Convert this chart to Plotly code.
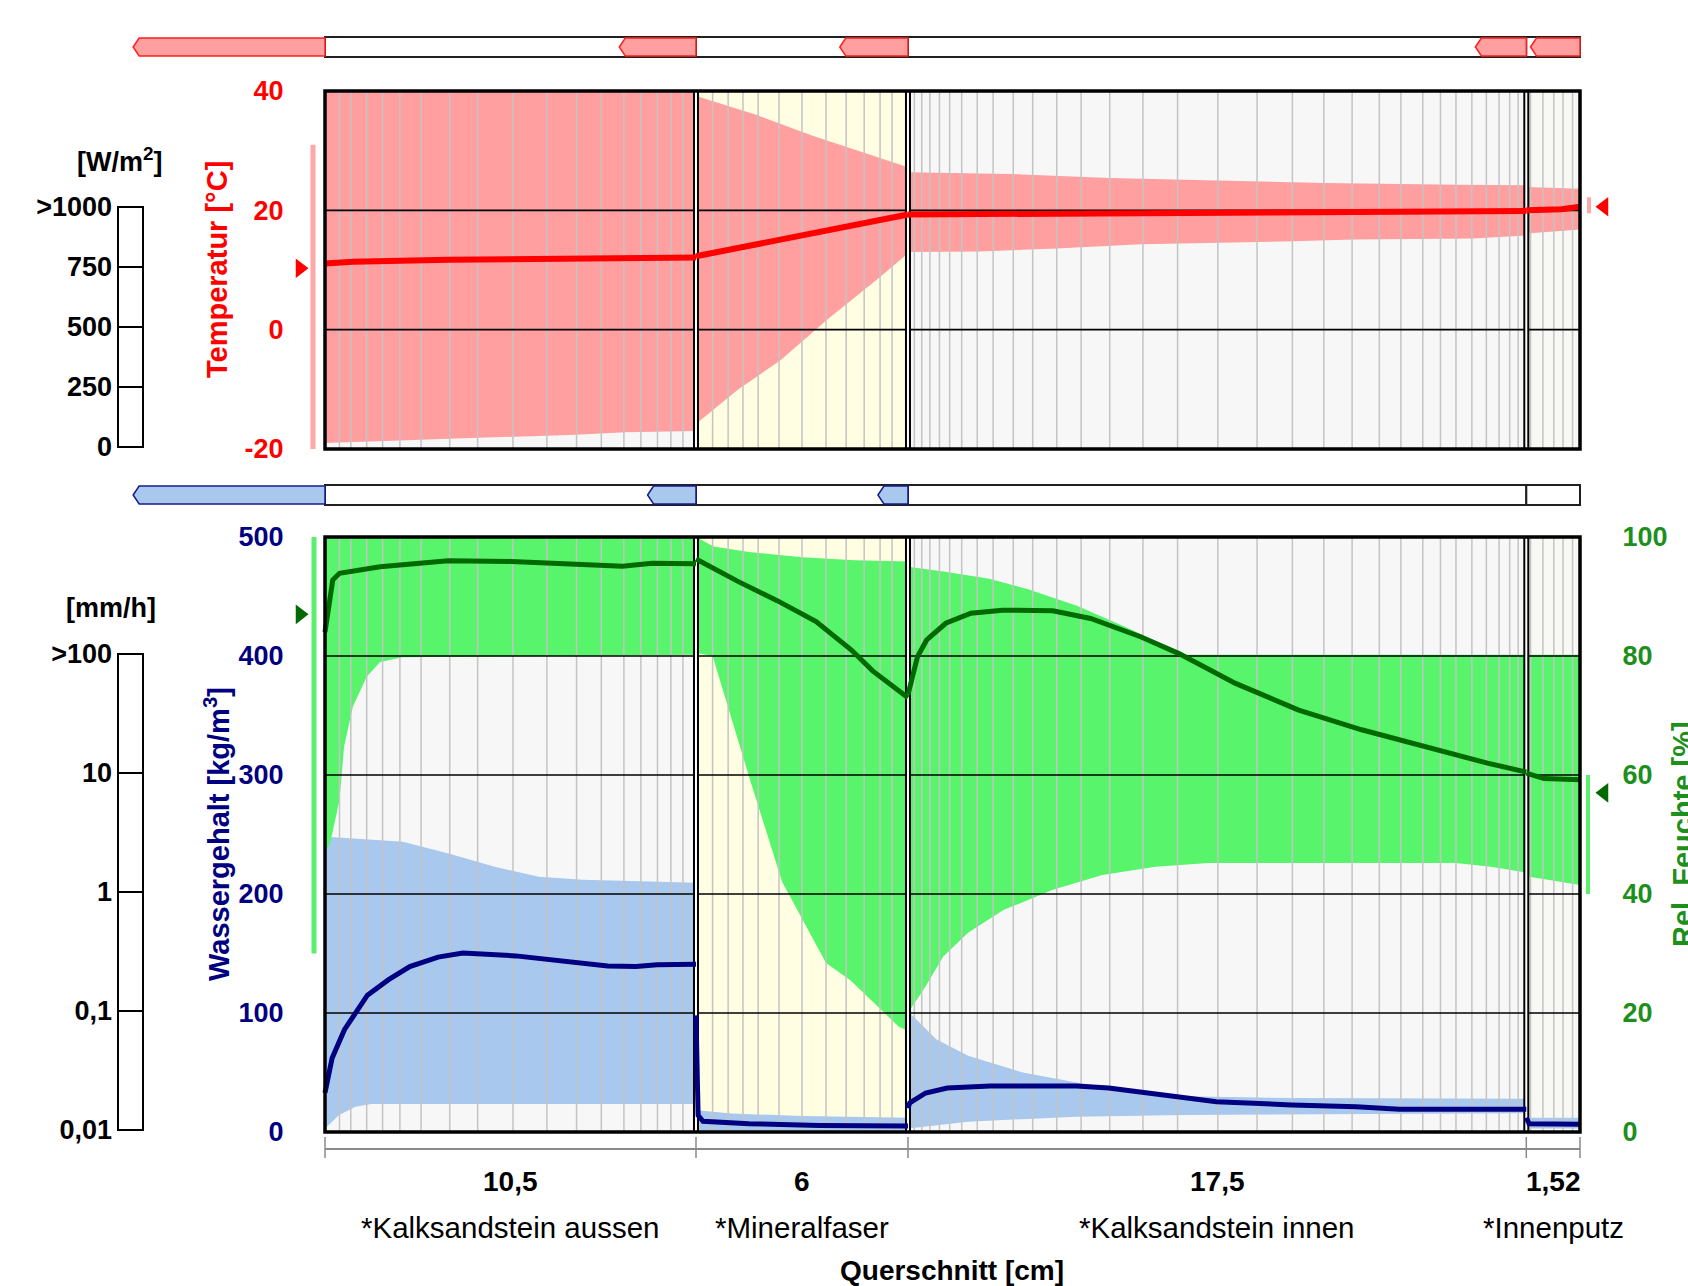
import plotly.graph_objects as go

W, H = 1688, 1286

# ---------------- data ----------------
layer_names = ["*Kalksandstein aussen", "*Mineralfaser", "*Kalksandstein innen", "*Innenputz"]
layer_thickness = [10.5, 6.0, 17.5, 1.52]
thickness_labels = ["10,5", "6", "17,5", "1,52"]

# numerical grid element boundaries [cm]
mesh_cm = [0.41, 0.73, 1.18, 1.63, 2.12, 2.72, 3.53, 4.32, 5.32, 6.28, 7.12, 7.82, 8.46, 8.94, 9.41, 9.79, 10.13,
           10.97, 11.41, 11.83, 12.26, 12.85, 13.50, 14.18, 14.75, 15.26, 15.71, 16.05,
           16.68, 16.89, 17.12, 17.39, 17.68, 18.02, 18.46, 18.91, 19.48, 20.03, 20.71, 21.40, 22.21, 23.15,
           24.13, 25.27, 26.38, 27.38, 28.27, 29.07, 29.84, 30.45, 31.07, 31.57, 32.01, 32.46, 32.87, 33.23,
           33.53, 33.77,
           34.12, 34.47, 34.78, 35.04, 35.31]

temp_ticks = [-20, 0, 20, 40]
temp_labels = ["-20", "0", "20", "40"]
water_ticks = [0, 100, 200, 300, 400, 500]
rh_ticks = [0, 20, 40, 60, 80, 100]
solar_ticks = [0, 250, 500, 750, 1000]
solar_labels = ["0", "250", "500", "750", ">1000"]
rain_ticks = [0.01, 0.1, 1, 10, 100]
rain_labels = ["0,01", "0,1", "1", "10", ">100"]

# temperature envelope (None separates layers)
t_max_x = [0, 10.5, None, 10.5, 10.6, 12.2, 13.8, 15.6, 16.5, None,
           16.5, 19.4, 22.2, 25.2, 28.3, 32.0, 34.0, None, 34.0, 35.52]
t_max_y = [40, 40, None, 40, 39, 36, 32.5, 29, 27.2, None,
           26.4, 26.1, 25.4, 25.0, 24.6, 24.3, 24.2, None, 23.9, 23.6]
t_min_x = [0, 1.5, 3.5, 5.3, 7.1, 8.5, 10.5, None, 10.5, 10.6, 11.7, 12.9, 14.2, 15.7, 16.5, None,
           16.5, 18.5, 20.7, 23.1, 27.4, 29.1, 32.5, 34.0, None, 34.0, 35.52]
t_min_y = [-19.0, -18.7, -18.3, -17.9, -17.6, -17.2, -17.0, None, -17, -15.3, -10, -5.1, 1.6, 8.8, 12.8, None,
           13.0, 13.1, 13.6, 14.3, 14.8, 15.1, 15.3, 15.8, None, 16.1, 16.8]
t_cur_x = [0, 0.8, 3.5, 7.7, 10.5, None, 10.5, 12, 13.5, 15, 16.5, None,
           16.5, 20.6, 29.1, 34.0, None, 34.0, 35.0, 35.52]
t_cur_y = [11.1, 11.4, 11.7, 12.0, 12.1, None, 12.3, 14.1, 15.9, 17.6, 19.3, None,
           19.3, 19.45, 19.8, 19.9, None, 20.0, 20.2, 20.6]
t_ext_mean, t_ext_range = 10.3, [-20, 31]
t_int_mean, t_int_range = 20.6, [19.5, 22.2]

# water content envelope [kg/m3]
w_max_x = [0, 0.15, 2.2, 3.5, 4.8, 6.05, 7.3, 10.5, None, 10.5, 10.55, 10.6, 11.5, 13.5, 16.5, None,
           16.5, 16.55, 17.3, 18.2, 19.75, 21.27, 22.8, 24.3, 27.4, 34.0, None, 34.0, 35.52]
w_max_y = [250, 248, 244, 234, 223, 214.5, 212, 209.5, None, 105, 60, 18, 15.5, 13.5, 12.0, None,
           112, 100, 78, 64, 50, 41.5, 34, 30, 28.5, 28, None, 12, 12]
w_min_x = [0, 0.4, 0.86, 1.31, 10.5, None, 10.5, 16.5, None,
           16.5, 18.2, 21.27, 24.3, 33.8, 34.0, None, 34.0, 35.52]
w_min_y = [3, 14.3, 21.3, 23.5, 23.5, None, 1, 1, None,
           3, 8.7, 12.9, 14.3, 15.7, 15.7, None, 3, 3]
w_cur_x = [0, 0.2, 0.55, 1.2, 1.8, 2.4, 3.2, 3.9, 5.4, 6.9, 8.0, 8.8, 9.4, 10.5, None,
           10.5, 10.56, 10.7, 12, 14, 16.5, None,
           16.5, 16.55, 17.0, 17.61, 18.83, 21.27, 22.18, 23.7, 25.23, 27.36, 29.19, 30.41, 34.0, None,
           34.0, 34.08, 35.52]
w_cur_y = [33, 62, 86, 115, 128, 139, 147, 150.5, 148, 143.5, 139.5, 139, 140.5, 141, None,
           98, 14, 9, 7, 5.5, 5, None,
           20, 24.4, 32.8, 37, 38.7, 38.7, 37, 31, 25.5, 22.7, 21.3, 19.1, 19.1, None,
           12, 7, 6.5]

# relative humidity envelope [%]
rh_max_x = [0, 10.5, None, 10.5, 11.0, 12.0, 13.5, 15.0, 16.5, None,
            16.5, 17.5, 18.8, 19.9, 21.3, 22.8, 24.3, 34.0, None, 34.0, 35.52]
rh_max_y = [100, 100, None, 100, 98.4, 97.5, 96.6, 96.1, 95.9, None,
            95, 94.2, 93.0, 91.2, 88.4, 84.5, 80.2, 80.2, None, 80.2, 80.2]
rh_min_x = [0, 0.15, 0.41, 0.54, 0.79, 1.18, 1.56, 2.2, 10.5, None,
            10.5, 10.97, 12.04, 12.94, 14.18, 14.87, 16.24, 16.5, None,
            16.5, 17.0, 17.5, 18.2, 19.2, 20.6, 22.0, 23.5, 25.0, 32.0, 33.0, 34.0, None, 34.0, 35.52]
rh_min_y = [47, 48.6, 55.8, 64.8, 71.5, 76.5, 79, 79.8, 80.2, None,
            80.5, 80, 59, 42, 28.4, 25.5, 17.7, 17, None,
            20, 24.5, 29.5, 33.5, 37.3, 40.7, 43.2, 44.6, 45.2, 45.2, 44.6, 43.6, None, 43, 41.5]
rh_cur_x = [0, 0.03, 0.22, 0.41, 1.56, 3.49, 5.28, 8.42, 9.26, 10.5, None,
            10.5, 11.7, 12.8, 13.9, 14.9, 15.5, 16.5, None,
            16.5, 16.77, 17.03, 17.57, 18.28, 19.17, 20.6, 21.67, 23.1, 24.17, 25.77, 27.56, 29.34, 31.12,
            32.9, 34.0, None, 34.0, 34.5, 35.52]
rh_cur_y = [84, 85.2, 92.8, 93.9, 95.0, 96.0, 95.9, 95.1, 95.6, 95.5, None,
            96.3, 92.5, 89.3, 85.8, 81.0, 77.5, 73.0, None,
            73.5, 79.9, 82.7, 85.5, 87.2, 87.7, 87.6, 86.3, 83.2, 80.4, 75.4, 70.9, 67.6, 64.8,
            62.0, 60.5, None, 60.3, 59.4, 59.2]
rh_ext_mean, rh_ext_range = 87, [30, 100]
rh_int_mean, rh_int_range = 57, [40, 60]

# flux indicator lengths [cm of bar scale]: exterior, then at the right end of each layer
heat_flux_len = [5.43, 2.17, 1.93, 1.44, 1.40]
moist_flux_len = [5.43, 1.37, 0.85]

# ---------------- style / layout ----------------
FONT = "Liberation Sans, Arial, sans-serif"
PINK, RED = "#ff9f9f", "#ff0000"
GREEN_F, GREEN_L, GREEN_T = "#58f46c", "#006a00", "#1d8f1d"
BLUE_F, NAVY = "#a8c8ee", "#000080"
LAYER_BG = ["#f7f7f7", "#fffde2", "#f7f7f7", "#f8f8f5"]
MESH = "#c4c4c4"

PX0, PX1 = 325, 1580
TOP0, TOP1 = 91, 449
BOT0, BOT1 = 537, 1132
total = sum(layer_thickness)
cm_per_px = total / (PX1 - PX0)
XR = [-PX0 * cm_per_px, (W - PX0) * cm_per_px]


def PY(p):
    return 1 - p / H


def cmx(px):
    return (px - PX0) * cm_per_px


bounds = [0]
for t in layer_thickness:
    bounds.append(bounds[-1] + t)
inner_bounds = bounds[1:-1]


def split(xs, ys):
    segs, cx, cy = [], [], []
    for a, b in zip(xs, ys):
        if a is None:
            segs.append((cx, cy))
            cx, cy = [], []
        else:
            cx.append(a)
            cy.append(b)
    if cx:
        segs.append((cx, cy))
    return segs


def band(xmax, ymax, xmin, ymin):
    X, Y = [], []
    for (ax, ay), (bx, by) in zip(split(xmax, ymax), split(xmin, ymin)):
        X += ax + bx[::-1] + [None]
        Y += ay + by[::-1] + [None]
    return X, Y


def vlines(xs, lo, hi):
    X, Y = [], []
    for v in xs:
        X += [v, v, None]
        Y += [lo, hi, None]
    return X, Y


def hlines(ys, x0, x1):
    X, Y = [], []
    for v in ys:
        X += [x0, x1, None]
        Y += [v, v, None]
    return X, Y


fig = go.Figure()


def line_tr(X, Y, color, width, yaxis):
    fig.add_trace(go.Scatter(x=X, y=Y, mode="lines", line=dict(color=color, width=width),
                             xaxis="x", yaxis=yaxis, hoverinfo="skip", showlegend=False))


def fill_tr(X, Y, color, yaxis):
    fig.add_trace(go.Scatter(x=X, y=Y, mode="lines", fill="toself", fillcolor=color,
                             line=dict(width=0, color=color), xaxis="x", yaxis=yaxis,
                             hoverinfo="skip", showlegend=False))


def marker_tr(x, y, symbol, color, yaxis):
    fig.add_trace(go.Scatter(x=[x], y=[y], mode="markers",
                             marker=dict(symbol=symbol, size=17, color=color, line=dict(width=0)),
                             xaxis="x", yaxis=yaxis, hoverinfo="skip", showlegend=False, cliponaxis=False))


# ---- top plot: temperature ----
fill_tr(*band(t_max_x, t_max_y, t_min_x, t_min_y), PINK, "y")
line_tr(*vlines(mesh_cm, temp_ticks[0], temp_ticks[-1]), MESH, 1.5, "y")
line_tr(*hlines(temp_ticks[1:-1], 0, total), "black", 1.6, "y")
line_tr(*vlines(inner_bounds, temp_ticks[0], temp_ticks[-1]), "black", 6, "y")
line_tr(*vlines(inner_bounds, temp_ticks[0], temp_ticks[-1]), "white", 2, "y")
line_tr(t_cur_x, t_cur_y, RED, 6, "y")
line_tr([cmx(313)] * 2, t_ext_range, "#ffa8a8", 5, "y")
line_tr([cmx(1589)] * 2, t_int_range, "#ffa8a8", 4, "y")
marker_tr(cmx(300), t_ext_mean, "triangle-right", RED, "y")
marker_tr(cmx(1604), t_int_mean, "triangle-left", RED, "y")

# ---- bottom plot: water content (y2) + rel. humidity (y3) ----
fill_tr(*band(w_max_x, w_max_y, w_min_x, w_min_y), BLUE_F, "y2")
fill_tr(*band(rh_max_x, rh_max_y, rh_min_x, rh_min_y), GREEN_F, "y3")
line_tr(*vlines(mesh_cm, rh_ticks[0], rh_ticks[-1]), MESH, 1.5, "y3")
line_tr(*hlines(rh_ticks[1:-1], 0, total), "black", 1.6, "y3")
line_tr(*vlines(inner_bounds, rh_ticks[0], rh_ticks[-1]), "black", 6, "y3")
line_tr(*vlines(inner_bounds, rh_ticks[0], rh_ticks[-1]), "white", 2, "y3")
line_tr(rh_cur_x, rh_cur_y, GREEN_L, 5, "y3")
line_tr([cmx(314)] * 2, rh_ext_range, "#5cf06e", 5, "y3")
line_tr([cmx(1588)] * 2, rh_int_range, "#5cf06e", 4, "y3")
marker_tr(cmx(300), rh_ext_mean, "triangle-right", GREEN_L, "y3")
marker_tr(cmx(1604), rh_int_mean, "triangle-left", GREEN_L, "y3")
line_tr(w_cur_x, w_cur_y, NAVY, 5, "y6")

# dummy traces so the side scale bars render
fig.add_trace(go.Scatter(x=[None], y=[None], xaxis="x", yaxis="y4", showlegend=False))
fig.add_trace(go.Scatter(x=[None], y=[None], xaxis="x", yaxis="y5", showlegend=False))

shapes = []
for i in range(len(layer_thickness)):
    shapes.append(dict(type="rect", xref="x", yref="y", x0=bounds[i], x1=bounds[i + 1],
                       y0=temp_ticks[0], y1=temp_ticks[-1], fillcolor=LAYER_BG[i], line=dict(width=0),
                       layer="below"))
    shapes.append(dict(type="rect", xref="x", yref="y2", x0=bounds[i], x1=bounds[i + 1],
                       y0=water_ticks[0], y1=water_ticks[-1], fillcolor=LAYER_BG[i], line=dict(width=0),
                       layer="below"))
# plot frames
for (a, b) in [(TOP0, TOP1), (BOT0, BOT1)]:
    shapes.append(dict(type="rect", xref="x", yref="paper", x0=0, x1=total, y0=PY(b), y1=PY(a),
                       line=dict(color="black", width=3.5), fillcolor="rgba(0,0,0,0)", layer="above"))


# layer bars with flux indicators
def bar(ytop, ybot, lengths, fill, edge):
    for i in range(len(layer_thickness)):
        shapes.append(dict(type="rect", xref="x", yref="paper", x0=bounds[i], x1=bounds[i + 1],
                           y0=PY(ybot), y1=PY(ytop), fillcolor="white",
                           line=dict(color="#202020", width=2), layer="above"))
    ym = PY((ytop + ybot) / 2)
    tip = 0.17
    for L, xe in zip(lengths, bounds):
        xs = xe - L
        path = (f"M {xs},{ym} L {xs + tip},{PY(ytop + 1)} L {xe},{PY(ytop + 1)} "
                f"L {xe},{PY(ybot - 1)} L {xs + tip},{PY(ybot - 1)} Z")
        shapes.append(dict(type="path", xref="x", yref="paper", path=path, fillcolor=fill,
                           line=dict(color=edge, width=1.5), layer="above"))


bar(37, 57, heat_flux_len, "#ff9f9f", "#ff2020")
bar(485, 505, moist_flux_len, "#a8c8ee", "#1a1a90")

# dimension line under the section
shapes.append(dict(type="line", xref="x", yref="paper", x0=0, x1=total, y0=PY(1149), y1=PY(1149),
                   line=dict(color="#8a8a8a", width=2)))
for b in bounds:
    shapes.append(dict(type="line", xref="x", yref="paper", x0=b, x1=b, y0=PY(1137), y1=PY(1158),
                       line=dict(color="#8a8a8a", width=1.5)))

# side scale boxes
shapes.append(dict(type="rect", xref="paper", yref="paper", x0=118 / W, x1=143 / W, y0=PY(447), y1=PY(207),
                   line=dict(color="black", width=2), fillcolor="rgba(0,0,0,0)", layer="above"))
shapes.append(dict(type="rect", xref="paper", yref="paper", x0=118 / W, x1=143 / W, y0=PY(1130), y1=PY(654),
                   line=dict(color="black", width=2), fillcolor="rgba(0,0,0,0)", layer="above"))

annotations = []


def ann(text, x, y, size=27, color="black", bold=True, angle=0):
    annotations.append(dict(text=text, x=x, y=y, xref="paper", yref="paper", showarrow=False,
                            xanchor="center", yanchor="middle", textangle=angle,
                            font=dict(family=FONT, size=size, color=color,
                                      weight="bold" if bold else "normal")))


ann("[W/m<sup>2</sup>]", 120 / W, PY(160), 27)
ann("[mm/h]", 111 / W, PY(608), 27)
ann("Temperatur [°C]", 217 / W, PY(270), 29, RED, True, -90)
ann("Wassergehalt [kg/m<sup>3</sup>]", 217 / W, PY(834), 29, NAVY, True, -90)
ann("Rel. Feuchte [%]", 1683 / W, PY(834), 29, GREEN_T, True, -90)
for i in range(len(layer_thickness)):
    cx = (PX0 + (bounds[i] + bounds[i + 1]) / 2 / cm_per_px) / W
    ann(thickness_labels[i], cx, PY(1181), 28)
    ann(layer_names[i], cx, PY(1227), 29.5, "black", False)
ann("Querschnitt [cm]", (PX0 + PX1) / 2 / W, PY(1270), 28)

tick_common = dict(showgrid=False, zeroline=False, showline=False, anchor="free", fixedrange=True)

fig.update_layout(
    width=W, height=H, margin=dict(l=0, r=0, t=0, b=0, autoexpand=False),
    paper_bgcolor="white", plot_bgcolor="rgba(0,0,0,0)", showlegend=False,
    font=dict(family=FONT),
    xaxis=dict(domain=[0, 1], range=XR, visible=False, fixedrange=True),
    yaxis=dict(domain=[PY(TOP1), PY(TOP0)], range=[temp_ticks[0], temp_ticks[-1]], tickvals=temp_ticks,
               ticktext=temp_labels, automargin=False,
               position=PX0 / W, side="left", ticks="outside", ticklen=36, tickcolor="rgba(0,0,0,0)",
               tickfont=dict(family=FONT, size=27, color=RED, weight="bold"), **tick_common),
    yaxis2=dict(domain=[PY(BOT1), PY(BOT0)], range=[water_ticks[0], water_ticks[-1]], tickvals=water_ticks,
                automargin=False,
                position=PX0 / W, side="left", ticks="outside", ticklen=36, tickcolor="rgba(0,0,0,0)",
                tickfont=dict(family=FONT, size=27, color=NAVY, weight="bold"), **tick_common),
    yaxis3=dict(overlaying="y2", range=[rh_ticks[0], rh_ticks[-1]], tickvals=rh_ticks, automargin=False,
                position=PX1 / W, side="right", ticks="outside", ticklen=36, tickcolor="rgba(0,0,0,0)",
                tickfont=dict(family=FONT, size=27, color=GREEN_T, weight="bold"), **tick_common),
    yaxis4=dict(domain=[PY(447), PY(207)], range=[0, 1000], tickvals=solar_ticks, ticktext=solar_labels,
                automargin=False,
                position=118 / W, side="left", ticks="inside", ticklen=25, tickwidth=2, tickcolor="black",
                ticklabelstandoff=6,
                tickfont=dict(family=FONT, size=27, color="black", weight="bold"), **tick_common),
    yaxis5=dict(domain=[PY(1130), PY(654)], type="log", range=[-2, 2], tickvals=rain_ticks, ticktext=rain_labels,
                automargin=False,
                position=118 / W, side="left", ticks="inside", ticklen=25, tickwidth=2, tickcolor="black",
                ticklabelstandoff=6,
                tickfont=dict(family=FONT, size=27, color="black", weight="bold"), **tick_common),
    yaxis6=dict(overlaying="y2", range=[water_ticks[0], water_ticks[-1]], visible=False, fixedrange=True),
    shapes=shapes, annotations=annotations,
)

fig.write_html("out.html", config={"displayModeBar": False},
               post_script="document.body.style.margin='0';document.body.style.overflow='hidden';")
